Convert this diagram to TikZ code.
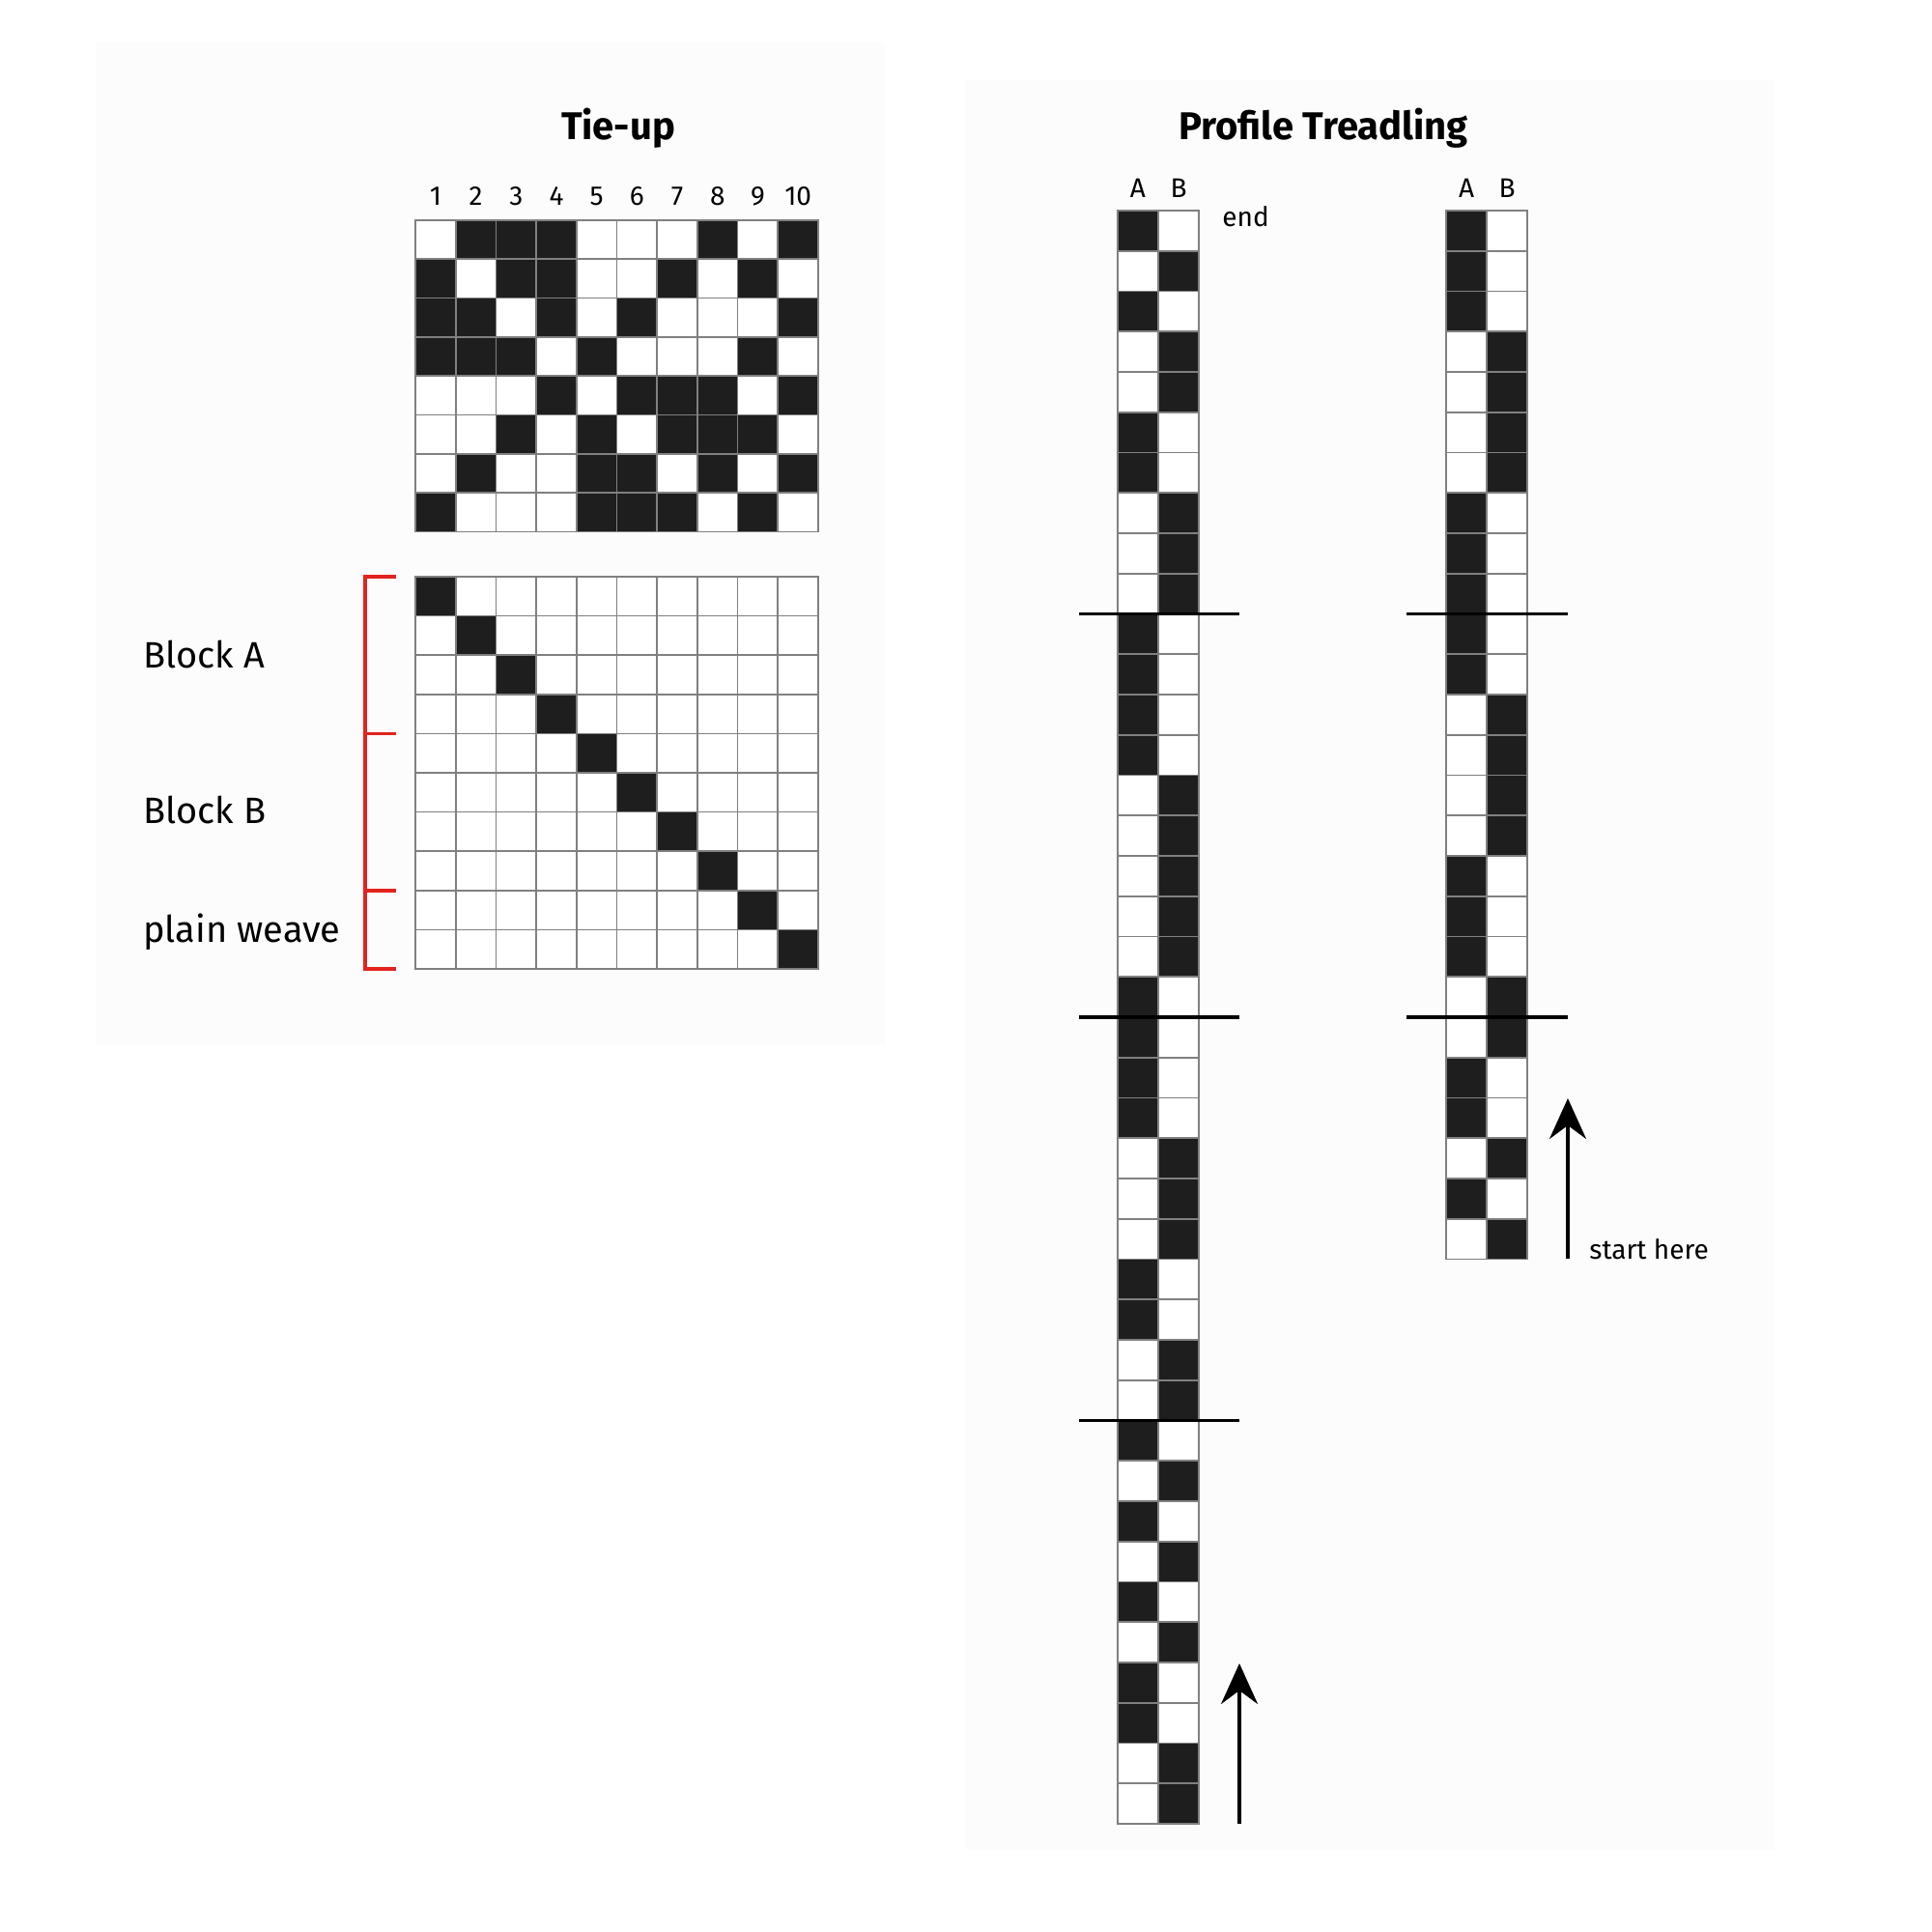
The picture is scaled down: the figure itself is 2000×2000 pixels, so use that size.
\documentclass[tikz,border=0pt]{standalone}
\usepackage{fontspec}
\setmainfont{Fira Sans}
\usetikzlibrary{arrows.meta}
\definecolor{cellblack}{HTML}{1E1E1E}
\definecolor{gridgray}{HTML}{808080}
\definecolor{panelbg}{HTML}{FCFCFC}
\definecolor{bracketred}{HTML}{E3231E}
\tikzset{
  panel/.style={fill=panelbg, draw=none},
  cellw/.style={fill=white, draw=gridgray, line width=0.85pt},
  cellb/.style={fill=cellblack, draw=gridgray, line width=0.85pt},
  sepline/.style={draw=black, line width=1.8pt},
  redbracket/.style={draw=bracketred, line width=1.7pt},
  uparrow/.style={draw=black, line width=1.7pt, -{Stealth[length=21pt, width=19pt, inset=7pt]}},
  titletext/.style={font=\fontsize{20}{24}\selectfont\bfseries, anchor=base, inner sep=0pt},
  labeltext/.style={font=\fontsize{19}{23}\selectfont, anchor=base west, inner sep=0pt},
  smalltext/.style={font=\fontsize{14}{17}\selectfont, anchor=base, inner sep=0pt},
  notetext/.style={font=\fontsize{14}{17}\selectfont, anchor=base west, inner sep=0pt}
}
\begin{document}
\begin{tikzpicture}[x=0.5pt, y=-0.5pt]
\useasboundingbox (0,0) rectangle (2000,2000);
\fill[white] (0,0) rectangle (2000,2000);
% background panels
\path[panel] (99,43) rectangle (916,1082);
\path[panel] (1000,83) rectangle (1837,1915);

% titles
\node[titletext] (titleTie) at (640,145) {Tie-up};
\node[titletext] (titleProf) at (1370,145) {Profile Treadling};

% tie-up grid (8 rows x 10 cols)
\def\xo{430}\def\yo{228}\def\cw{41.7}\def\chh{40.3}
\foreach \n [count=\c from 0] in {1,...,10} {
  \node[smalltext] (num\n) at ({\xo+(\c+0.5)*\cw},213) {\n};
}
\foreach \row [count=\r from 0] in {
  {0,1,1,1,0,0,0,1,0,1},
  {1,0,1,1,0,0,1,0,1,0},
  {1,1,0,1,0,1,0,0,0,1},
  {1,1,1,0,1,0,0,0,1,0},
  {0,0,0,1,0,1,1,1,0,1},
  {0,0,1,0,1,0,1,1,1,0},
  {0,1,0,0,1,1,0,1,0,1},
  {1,0,0,0,1,1,1,0,1,0}} {
  \foreach \v [count=\c from 0] in \row {
    \ifnum\v=1
      \path[cellb] ({\xo+\c*\cw},{\yo+\r*\chh}) rectangle ++(\cw,\chh);
    \else
      \path[cellw] ({\xo+\c*\cw},{\yo+\r*\chh}) rectangle ++(\cw,\chh);
    \fi
  }
}

% lower grid (10 x 10, diagonal)
\def\yt{597}\def\ch{40.6}
\foreach \r in {0,...,9} {
  \foreach \c in {0,...,9} {
    \ifnum\r=\c
      \path[cellb] ({\xo+\c*\cw},{\yt+\r*\ch}) rectangle ++(\cw,\ch);
    \else
      \path[cellw] ({\xo+\c*\cw},{\yt+\r*\ch}) rectangle ++(\cw,\ch);
    \fi
  }
}

% red bracket
\coordinate (brTop) at (378,597);
\coordinate (brBot) at (378,1003);
\draw[redbracket] (410,597) -- (brTop) -- (brBot) -- (410,1003);
\draw[redbracket] (378,759.4) -- (410,759.4);
\draw[redbracket] (378,921.8) -- (410,921.8);
\node[labeltext] (lblA) at (148,691) {Block A};
\node[labeltext] (lblB) at (148,852) {Block B};
\node[labeltext] (lblP) at (148,975) {plain weave};

% treadling column 1 (40 rows)
\def\ty{218}\def\th{41.75}\def\tw{42}
\def\xa{1157}
\node[smalltext] (hA1) at ({\xa+21},205) {A};
\node[smalltext] (hB1) at ({\xa+63},205) {B};
\foreach \v [count=\r from 0] in {0,1,0,1,1,0,0,1,1,1, 0,0,0,0,1,1,1,1,1,0, 0,0,0,1,1,1,0,0,1,1, 0,1,0,1,0,1,0,0,1,1} {
  \ifnum\v=0
    \path[cellb] (\xa,{\ty+\r*\th}) rectangle ++(\tw,\th);
    \path[cellw] ({\xa+\tw},{\ty+\r*\th}) rectangle ++(\tw,\th);
  \else
    \path[cellw] (\xa,{\ty+\r*\th}) rectangle ++(\tw,\th);
    \path[cellb] ({\xa+\tw},{\ty+\r*\th}) rectangle ++(\tw,\th);
  \fi
}
\foreach \k in {10,20,30} {
  \draw[sepline] (1117,{\ty+\k*\th}) -- (1283,{\ty+\k*\th});
}
\node[notetext] (endlbl) at (1265,235) {end};
\coordinate (arr1s) at (1283,1888);
\coordinate (arr1e) at (1283,1722);
\draw[uparrow] (arr1s) -- (arr1e);

% treadling column 2 (26 rows)
\def\xb{1497}
\node[smalltext] (hA2) at ({\xb+21},205) {A};
\node[smalltext] (hB2) at ({\xb+63},205) {B};
\foreach \v [count=\r from 0] in {0,0,0,1,1,1,1,0,0,0, 0,0,1,1,1,1,0,0,0,1, 1,0,0,1,0,1} {
  \ifnum\v=0
    \path[cellb] (\xb,{\ty+\r*\th}) rectangle ++(\tw,\th);
    \path[cellw] ({\xb+\tw},{\ty+\r*\th}) rectangle ++(\tw,\th);
  \else
    \path[cellw] (\xb,{\ty+\r*\th}) rectangle ++(\tw,\th);
    \path[cellb] ({\xb+\tw},{\ty+\r*\th}) rectangle ++(\tw,\th);
  \fi
}
\foreach \k in {10,20} {
  \draw[sepline] (1456,{\ty+\k*\th}) -- (1623,{\ty+\k*\th});
}
\coordinate (arr2s) at (1623,1303);
\coordinate (arr2e) at (1623,1137);
\draw[uparrow] (arr2s) -- (arr2e);
\node[notetext] (startlbl) at (1645,1303) {start here};
\end{tikzpicture}
\end{document}
